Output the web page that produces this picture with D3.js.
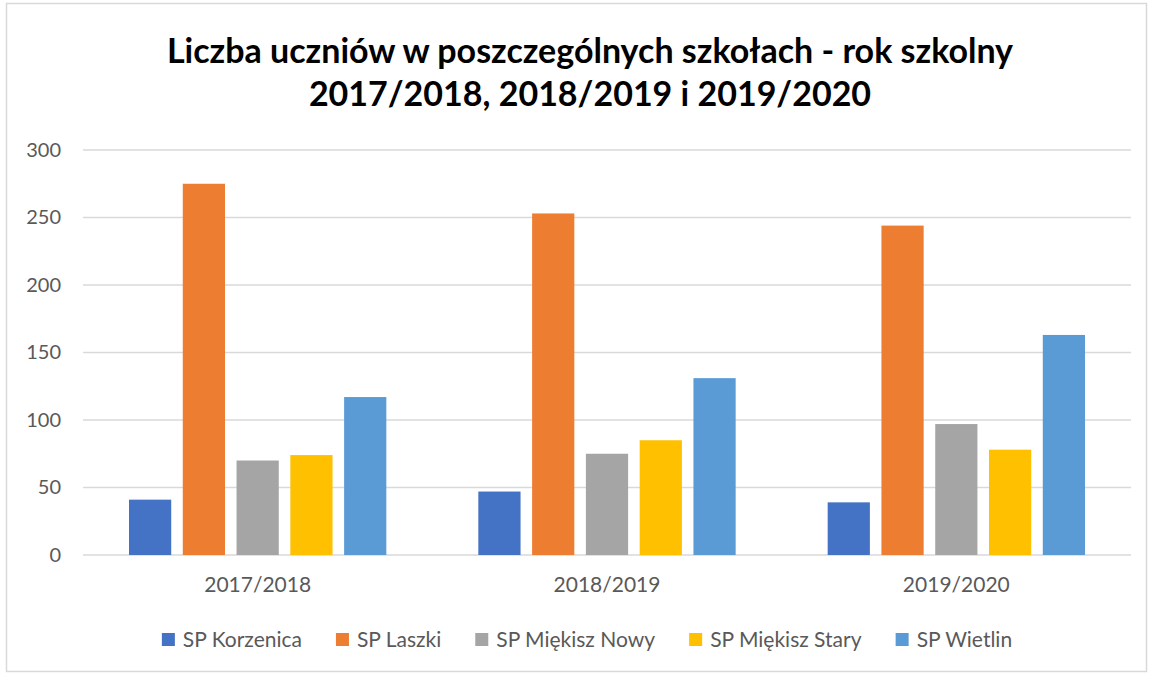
<!DOCTYPE html>
<html>
<head>
<meta charset="utf-8">
<script src="https://cdnjs.cloudflare.com/ajax/libs/d3/7.8.5/d3.min.js"></script>
<style>
  body { margin: 0; background: #fff; }
  text { font-family: Lato, "Open Sans", sans-serif; }
  .title { font-weight: bold; fill: #000; font-size: 34px; }
  .tick-y text { fill: #595959; font-size: 20px; }
  .tick-x text { fill: #595959; font-size: 21px; }
  .legend text { fill: #595959; font-size: 21px; }
</style>
</head>
<body>
<div class="content"></div>
<script>
  var years = ["2017/2018", "2018/2019", "2019/2020"];
  var schools = ["SP Korzenica", "SP Laszki", "SP Miękisz Nowy", "SP Miękisz Stary", "SP Wietlin"];
  var colors = ["#4472C4", "#ED7D31", "#A5A5A5", "#FFC000", "#5B9BD5"];
  var korzenica = [41, 47, 39];
  var laszki = [275, 253, 244];
  var miekiszNowy = [70, 75, 97];
  var miekiszStary = [74, 85, 78];
  var wietlin = [117, 131, 163];
  var yTicks = [0, 50, 100, 150, 200, 250, 300];
  var titleLines = ["Liczba uczniów w poszczególnych szkołach - rok szkolny",
                    "2017/2018, 2018/2019 i 2019/2020"];

  var seriesValues = [korzenica, laszki, miekiszNowy, miekiszStary, wietlin];
  var data = years.map(function(y, i) {
    return { year: y, values: schools.map(function(s, j) { return { school: s, value: seriesValues[j][i] }; }) };
  });

  var W = 1151, H = 675,
      plot = { left: 83, right: 1131, top: 150, bottom: 555 };

  var svg = d3.select(".content").append("svg")
      .attr("width", W)
      .attr("height", H);

  // chart border
  svg.append("rect")
      .attr("x", 6.5).attr("y", 3.5)
      .attr("width", 1140).attr("height", 668)
      .attr("fill", "#fff")
      .attr("stroke", "#d9d9d9")
      .attr("stroke-width", 1.5);

  svg.append("text")
      .attr("class", "title")
      .attr("text-anchor", "middle")
      .selectAll("tspan")
      .data(titleLines)
      .enter().append("tspan")
      .attr("x", 590)
      .attr("y", function(d, i) { return 63 + i * 43; })
      .text(function(d) { return d; });

  var x0 = d3.scaleBand()
      .domain(years)
      .range([plot.left, plot.right]);

  var groupPad = 46;
  var x1 = d3.scaleBand()
      .domain(schools)
      .range([groupPad, x0.bandwidth() - groupPad])
      .paddingInner(0.215);

  var y = d3.scaleLinear()
      .domain([0, 300])
      .range([plot.bottom, plot.top]);

  var color = d3.scaleOrdinal().domain(schools).range(colors);

  // grid
  svg.append("g")
      .selectAll("line")
      .data(yTicks)
      .enter().append("line")
      .attr("x1", plot.left).attr("x2", plot.right)
      .attr("y1", function(d) { return y(d); })
      .attr("y2", function(d) { return y(d); })
      .attr("stroke", "#d9d9d9")
      .attr("stroke-width", 1.5);

  var yAxis = svg.append("g")
      .attr("class", "tick-y")
      .attr("transform", "translate(" + (plot.left - 22) + ",0)")
      .call(d3.axisLeft(y).tickValues(yTicks).tickSize(0).tickPadding(0));
  yAxis.select(".domain").remove();
  yAxis.selectAll("text").attr("font-family", null).attr("font-size", null);

  var xAxis = svg.append("g")
      .attr("class", "tick-x")
      .attr("transform", "translate(0," + plot.bottom + ")")
      .call(d3.axisBottom(x0).tickSize(0).tickPadding(22));
  xAxis.select(".domain").remove();
  xAxis.selectAll("text").attr("font-family", null).attr("font-size", null);

  // bars
  svg.append("g")
      .selectAll("g")
      .data(data)
      .enter().append("g")
      .attr("transform", function(d) { return "translate(" + x0(d.year) + ",0)"; })
      .selectAll("rect")
      .data(function(d) { return d.values; })
      .enter().append("rect")
      .attr("x", function(d) { return x1(d.school); })
      .attr("y", function(d) { return y(d.value); })
      .attr("width", x1.bandwidth())
      .attr("height", function(d) { return y(0) - y(d.value); })
      .attr("fill", function(d) { return color(d.school); });

  // legend
  var legend = svg.append("g").attr("class", "legend");
  var items = legend.selectAll("g")
      .data(schools)
      .enter().append("g");
  items.append("rect")
      .attr("width", 13).attr("height", 13)
      .attr("y", -14)
      .attr("fill", function(d) { return color(d); });
  items.append("text")
      .attr("x", 21)
      .attr("y", 0)
      .text(function(d) { return d; });

  var gap = 34, offs = [], total = 0;
  items.each(function() {
    var w = this.getBBox().width;
    offs.push(total);
    total += w + gap;
  });
  total -= gap;
  var startX = 587 - total / 2;
  items.attr("transform", function(d, i) { return "translate(" + (startX + offs[i]) + ",647)"; });
</script>
</body>
</html>
